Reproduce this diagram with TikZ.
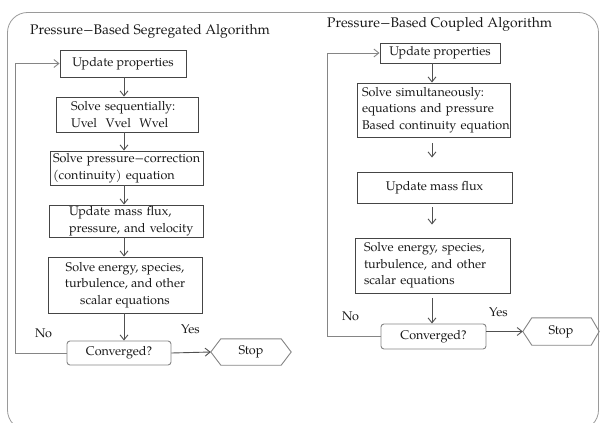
\documentclass[tikz,border=0pt]{standalone}
\usepackage{fontspec}
\setmainfont{TeX Gyre Pagella}
\usetikzlibrary{arrows.meta}
\definecolor{boxc}{HTML}{454545}
\definecolor{linec}{HTML}{505050}
\definecolor{fbc}{HTML}{858585}
\definecolor{framec}{HTML}{9A9A9A}
\definecolor{txtc}{HTML}{1A1A1A}
\tikzset{
  box/.style={draw=boxc, line width=0.9pt, inner sep=0pt, text=txtc,
    font=\fontsize{12.6}{16.5}\selectfont, align=center},
  lbox/.style={box, align=left},
  cbox/.style={draw=fbc, line width=0.9pt, rounded corners=3pt, inner sep=0pt, text=txtc,
    font=\fontsize{12.6}{16.5}\selectfont},
  hexn/.style={inner sep=0pt, text=txtc, font=\fontsize{12.6}{16.5}\selectfont},
  hexline/.style={draw=fbc, line width=0.9pt},
  arr/.style={draw=linec, line width=0.9pt, -{Straight Barb[length=5pt,width=8pt]}},
  fb/.style={draw=fbc, line width=0.9pt, -{Straight Barb[length=5pt,width=8pt]}},
  ttl/.style={inner sep=0pt, text=txtc, font=\fontsize{13.9}{16}\selectfont, anchor=west},
  lab/.style={inner sep=0pt, text=txtc, font=\fontsize{12.6}{16}\selectfont}
}
\begin{document}
\begin{tikzpicture}[x=1pt,y=-1pt]
\useasboundingbox (0,0) rectangle (600,423);
\clip (0,0) rectangle (600,423);
\draw[draw=framec, line width=0.8pt, rounded corners=20pt] (7.5,12.5) rectangle (598.5,430);

% ---------- left ----------
\node[ttl] (t1) at (30,31) {Pressure−Based Segregated Algorithm};
\node[box, minimum width=126pt, minimum height=27pt] (up1) at (123,63.5) {Update properties};
\node[lbox, minimum width=142pt, minimum height=35pt, text width=112pt, inner xsep=15pt] (ss) at (127,114.5)
  {\mbox{Solve sequentially:}\\\mbox{Uvel\ \ Vvel\ \ Wvel}};
\node[lbox, minimum width=153pt, minimum height=34pt, text width=147pt, inner xsep=3pt] (pc) at (126.5,168)
  {\mbox{Solve pressure−correction}\\\mbox{(continuity) equation}};
\node[lbox, minimum width=154pt, minimum height=32pt, text width=114pt, inner xsep=20pt] (mf) at (126,221)
  {\mbox{Update mass flux,}\\\mbox{pressure, and velocity}};
\node[box, minimum width=154pt, minimum height=56pt] (en) at (125,285)
  {Solve energy, species,\\turbulence, and other\\scalar equations};
\node[cbox, minimum width=104pt, minimum height=24pt] (cv) at (119,353) {Converged?};
\node[hexn, minimum width=80pt, minimum height=26pt] (st) at (251,352) {Stop};
\draw[hexline] (st.west) -- ([xshift=10pt]st.north west) -- ([xshift=-10pt]st.north east) -- (st.east)
  -- ([xshift=-10pt]st.south east) -- ([xshift=10pt]st.south west) -- cycle;
\node[lab] (yes1) at (190.5,329) {Yes};
\node[lab] (no1) at (43.5,333) {No};

\coordinate (L) at (124,0);
\draw[arr] (up1.south -| L) -- (ss.north -| L);
\draw[arr] (ss.south -| L) -- (pc.north -| L);
\draw[arr] (pc.south -| L) -- (mf.north -| L);
\draw[arr] (mf.south -| L) -- (en.north -| L);
\draw[arr] (en.south -| L) -- (cv.north -| L);
\draw[arr] (cv.east) -- (st.west);
\coordinate (fl) at (15,0);
\draw[fb] (cv.west) -- (cv.west -| fl) -- (fl |- up1.west) -- (up1.west);

% ---------- right ----------
\node[ttl] (t2) at (327,24) {Pressure−Based Coupled Algorithm};
\node[box, minimum width=120pt, minimum height=20pt] (up2) at (440,53) {Update properties};
\node[lbox, minimum width=153pt, minimum height=54pt, text width=143pt, inner xsep=5pt] (sim) at (433.5,110)
  {\mbox{Solve simultaneously:}\\\mbox{equations and pressure}\\\mbox{Based continuity equation}};
\node[box, minimum width=155pt, minimum height=31pt] (mf2) at (434.5,187.5) {Update mass flux};
\node[lbox, minimum width=155pt, minimum height=55pt, text width=137pt, inner xsep=9pt] (en2) at (432.5,265.5)
  {\mbox{Solve energy, species,}\\\mbox{turbulence, and other}\\\mbox{scalar equations}};
\node[cbox, minimum width=105pt, minimum height=25pt] (cv2) at (433.5,336.5) {Converged?};
\node[hexn, minimum width=76pt, minimum height=27pt] (st2) at (561,331.5) {Stop};
\draw[hexline] (st2.west) -- ([xshift=9pt]st2.north west) -- ([xshift=-8pt]st2.north east) -- (st2.east)
  -- ([xshift=-8pt]st2.south east) -- ([xshift=9pt]st2.south west) -- cycle;
\node[lab] (yes2) at (498.5,312.5) {Yes};
\node[lab] (no2) at (350.5,316) {No};

\coordinate (R) at (432,0);
\draw[arr] (up2.south -| R) -- (sim.north -| R);
\draw[arr, shorten <=6pt, shorten >=14pt] (sim.south -| R) -- (mf2.north -| R);
\draw[arr, shorten <=4pt, shorten >=13pt] (mf2.south -| R) -- (en2.north -| R);
\draw[arr, shorten <=5pt] (en2.south -| R) -- (cv2.north -| R);
\draw[arr] (cv2.east |- st2.west) -- (st2.west);
\coordinate (fr) at (327,0);
\draw[fb] (cv2.west) -- (cv2.west -| fr) -- (fr |- up2.west) -- (up2.west);
\end{tikzpicture}
\end{document}
